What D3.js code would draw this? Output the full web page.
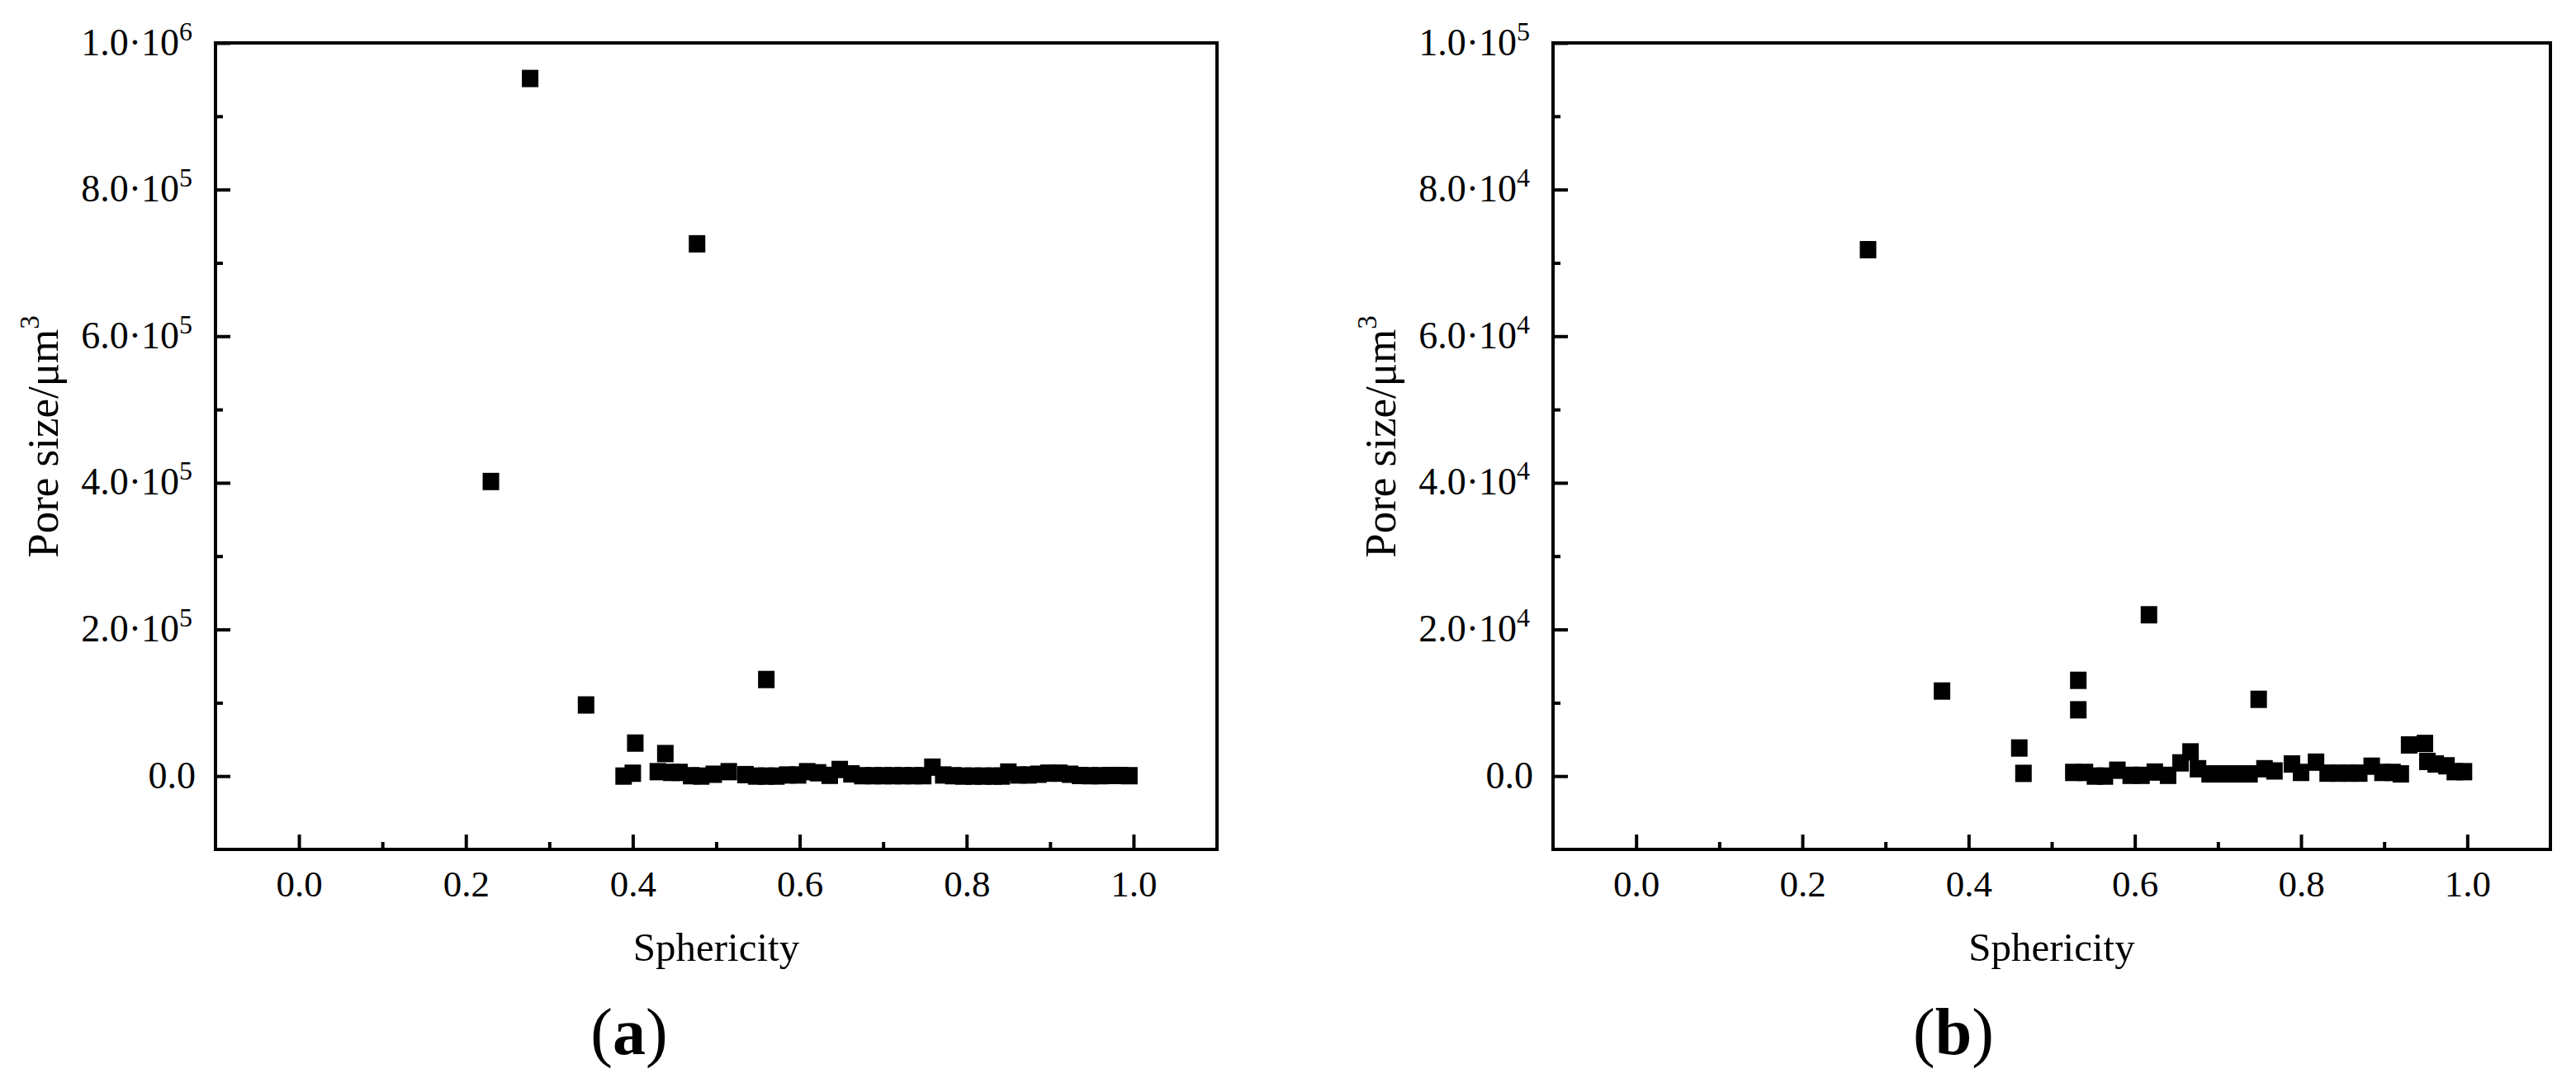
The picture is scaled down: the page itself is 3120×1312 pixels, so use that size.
<!DOCTYPE html>
<html>
<head>
<meta charset="utf-8">
<script src="https://cdn.jsdelivr.net/npm/d3@7"></script>
<style>
body { margin: 0; background: #fff; }
svg { display: block; }
</style>
</head>
<body>
<div id="chart"></div>
<script>
// panel (a) data: sphericity vs pore size (um^3)
var sphericityA = [0.230, 0.277, 0.344, 0.389, 0.400, 0.403, 0.439, 0.477, 0.560,
    0.430, 0.446, 0.456, 0.470, 0.482, 0.497, 0.515, 0.535, 0.548, 0.560, 0.572,
    0.585, 0.598, 0.609, 0.622, 0.636, 0.648, 0.662, 0.675, 0.688, 0.700, 0.712,
    0.724, 0.736, 0.748, 0.759, 0.772, 0.784, 0.796, 0.808, 0.820, 0.832, 0.842,
    0.850, 0.862, 0.874, 0.886, 0.898, 0.911, 0.924, 0.936, 0.948, 0.960, 0.972,
    0.984, 0.995];
var poreSizeA = [401800, 951500, 97000, 0, 3900, 45000, 30700, 726000, 131700,
    6000, 5000, 5000, 500, 0, 2500, 6000, 2000, 0, 0, 0,
    1500, 1500, 6000, 4500, 1000, 9000, 3000, 500, 500, 500, 500,
    500, 500, 500, 12200, 1500, 500, 0, 0, 0, 0, 0,
    5500, 1500, 1500, 2500, 4000, 4000, 2500, 800, 500, 500, 800,
    800, 500];

// panel (b) data
var sphericityB = [0.279, 0.368, 0.461, 0.466, 0.532, 0.532, 0.617, 0.749,
    0.526, 0.540, 0.552, 0.564, 0.579, 0.595, 0.608, 0.624, 0.640, 0.655, 0.667,
    0.676, 0.690, 0.702, 0.714, 0.726, 0.738, 0.756, 0.768, 0.789, 0.800, 0.818,
    0.832, 0.845, 0.858, 0.870, 0.885, 0.898, 0.910, 0.920, 0.930, 0.952, 0.949,
    0.962, 0.975, 0.985, 0.996];
var poreSizeB = [71800, 11600, 3830, 370, 13060, 9040, 22000, 10470,
    500, 500, 0, 0, 800, 100, 100, 550, 100, 1800, 3300,
    1000, 300, 300, 300, 300, 300, 1000, 700, 1650, 500, 1900,
    400, 400, 400, 400, 1350, 500, 500, 300, 4250, 2000, 4450,
    1650, 1400, 600, 600];

// ticks
var xTicks = [0, 0.2, 0.4, 0.6, 0.8, 1.0];
var xTickLabels = ['0.0', '0.2', '0.4', '0.6', '0.8', '1.0'];
var xMinor = [0.1, 0.3, 0.5, 0.7, 0.9];
var yTicksA = [0, 2e5, 4e5, 6e5, 8e5, 1e6];
var yTickLabelsA = ['0.0', '2.0\u00b710^5', '4.0\u00b710^5', '6.0\u00b710^5', '8.0\u00b710^5', '1.0\u00b710^6'];
var yMinorA = [1e5, 3e5, 5e5, 7e5, 9e5];
var yTicksB = [0, 2e4, 4e4, 6e4, 8e4, 1e5];
var yTickLabelsB = ['0.0', '2.0\u00b710^4', '4.0\u00b710^4', '6.0\u00b710^4', '8.0\u00b710^4', '1.0\u00b710^5'];
var yMinorB = [1e4, 3e4, 5e4, 7e4, 9e4];

var font = "'Liberation Serif', 'Times New Roman', serif";

var svg = d3.select('#chart')
    .append('svg')
    .attr('width', 3120)
    .attr('height', 1312)
    .style('background', '#fff');

var panels = [
    {left: 261, right: 1474, sph: sphericityA, size: poreSizeA, yMax: 1e6, yTicks: yTicksA, yLabels: yTickLabelsA, yMinor: yMinorA, tag: 'a', tagX: 762},
    {left: 1881, right: 3089, sph: sphericityB, size: poreSizeB, yMax: 1e5, yTicks: yTicksB, yLabels: yTickLabelsB, yMinor: yMinorB, tag: 'b', tagX: 2366}
];
var plotTop = 52, plotBottom = 1029;

panels.forEach(function(p) {
    var w = p.right - p.left,
        h = plotBottom - plotTop;
    var g = svg.append('g')
        .attr('transform', 'translate(' + p.left + ',' + plotTop + ')');

    var x = d3.scaleLinear().domain([-0.1, 1.1]).range([0, w]);
    var y = d3.scaleLinear().domain([-p.yMax / 10, p.yMax]).range([h, 0]);

    // minor ticks
    var gxm = g.append('g')
        .attr('transform', 'translate(0,' + h + ')')
        .call(d3.axisBottom(x).tickValues(xMinor).tickSize(-9).tickSizeOuter(0).tickFormat(''));
    var gym = g.append('g')
        .call(d3.axisLeft(y).tickValues(p.yMinor).tickSize(-9).tickSizeOuter(0).tickFormat(''));

    // major ticks with labels
    var gx = g.append('g')
        .attr('transform', 'translate(0,' + h + ')')
        .call(d3.axisBottom(x).tickValues(xTicks).tickSize(-18).tickSizeOuter(0)
            .tickFormat(function(d, i) { return xTickLabels[i]; }));
    var gy = g.append('g')
        .call(d3.axisLeft(y).tickValues(p.yTicks).tickSize(-18).tickSizeOuter(0)
            .tickFormat(function(d, i) { return p.yLabels[i]; }));

    [gxm, gym, gx, gy].forEach(function(a) {
        a.select('.domain').remove();
        a.selectAll('.tick line').attr('stroke', '#000').attr('stroke-width', 4);
        a.attr('font-family', font).attr('font-size', null);
    });

    gx.selectAll('.tick text')
        .attr('y', 57)
        .attr('dy', null)
        .attr('fill', '#000')
        .style('font-size', '45px');

    gy.selectAll('.tick text').each(function(d, i) {
        var parts = p.yLabels[i].split('^');
        var t = d3.select(this).text(null)
            .attr('x', parts[1] ? -28 : -24)
            .attr('dy', 14)
            .attr('fill', '#000')
            .style('font-size', '46px');
        t.append('tspan').text(parts[0]);
        if (parts[1]) {
            t.append('tspan').attr('dy', -18).style('font-size', '32px').text(parts[1]);
        }
    });

    // frame
    g.append('rect')
        .attr('width', w)
        .attr('height', h)
        .attr('fill', 'none')
        .attr('stroke', '#000')
        .attr('stroke-width', 4);

    // square markers
    g.append('g')
        .selectAll('rect')
        .data(p.sph.map(function(s, i) { return [s, p.size[i]]; }))
        .enter()
        .append('rect')
        .attr('x', function(d) { return x(d[0]) - 10; })
        .attr('y', function(d) { return y(d[1]) - 10.5; })
        .attr('width', 20)
        .attr('height', 21)
        .attr('fill', '#000');

    // axis titles
    g.append('text')
        .attr('text-anchor', 'middle')
        .attr('x', w / 2)
        .attr('y', 1164 - plotTop)
        .style('font-family', font)
        .style('font-size', '49px')
        .text('Sphericity');

    var yt = g.append('text')
        .attr('text-anchor', 'middle')
        .attr('transform', 'translate(-191,' + (529 - plotTop) + ') rotate(-90)')
        .style('font-family', font)
        .style('font-size', '53px');
    yt.append('tspan').text('Pore size/\u03bcm');
    yt.append('tspan').attr('dy', -23).style('font-size', '33px').text('3');

    // panel tag
    var tg = svg.append('text')
        .attr('text-anchor', 'middle')
        .attr('x', p.tagX)
        .attr('y', 1277)
        .style('font-family', font)
        .style('font-size', '80px');
    tg.append('tspan').text('(');
    tg.append('tspan').style('font-weight', 'bold').text(p.tag);
    tg.append('tspan').text(')');
});
</script>
</body>
</html>
